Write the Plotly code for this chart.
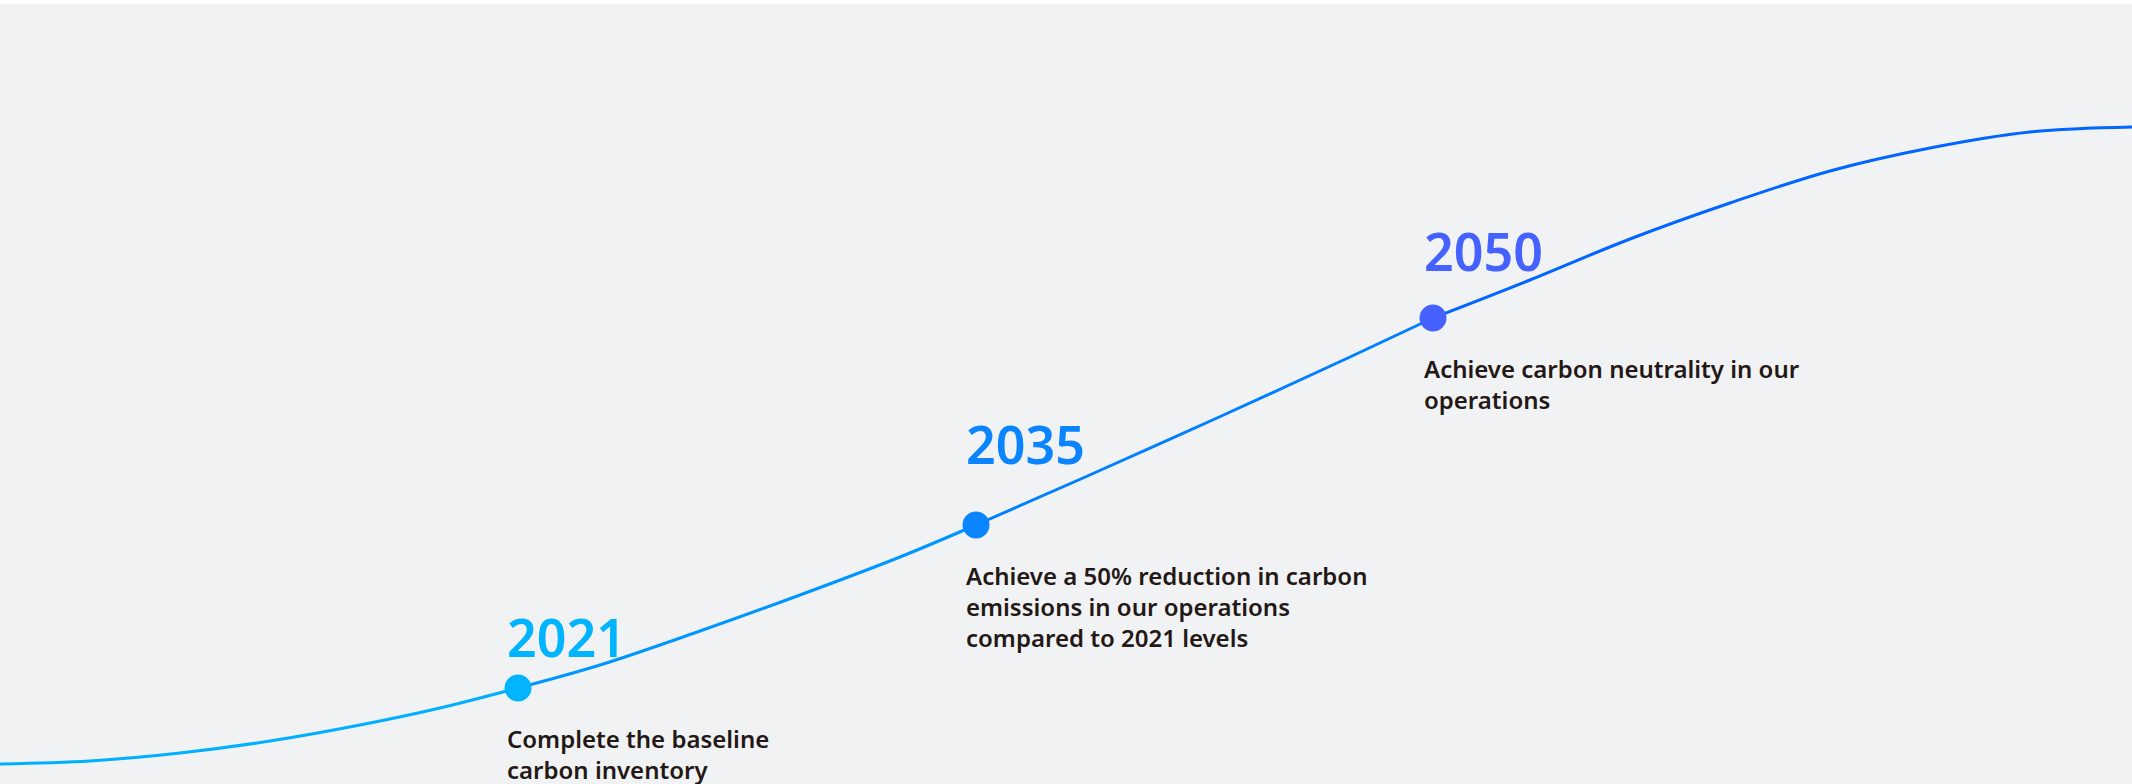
import plotly.graph_objects as go

# ---- data (pixel-like units: x 0..2132, y 0..784 top-down) ----
curve_x = [0, 90, 180, 270, 360, 440, 518,
           600, 700, 800, 900, 976,
           1083, 1217, 1350, 1433,
           1530, 1630, 1730, 1830, 1930, 2030, 2132]
curve_y = [764, 761, 753, 741, 725, 708, 688,
           665, 631, 595, 557, 525,
           478, 418, 357, 318,
           280, 239, 203, 171, 148, 132, 127]

milestone_years = ["2021", "2035", "2050"]
milestone_x = [518, 976, 1433]
milestone_y = [688, 525, 318]
milestone_text = [
    "Complete the baseline<br>carbon inventory",
    "Achieve a 50% reduction in carbon<br>emissions in our operations<br>compared to 2021 levels",
    "Achieve carbon neutrality in our<br>operations",
]

# ---- styling / layout ----
milestone_colors = ["#00b4ff", "#0a84ff", "#4561ff"]
segment_colors = ["#00b0ff", "#0096ff", "#0080ff", "#0066ff"]
year_label_left = [506, 965, 1423]
year_label_top = [600, 407, 214]
desc_top_offset = 33
bg = "#f1f2f4"
text_color = "#231815"
font_family = "Noto Sans"

fig = go.Figure()

# split the curve at the milestone points (joins are hidden under the dots)
breaks = [0] + [curve_x.index(mx) for mx in milestone_x] + [len(curve_x) - 1]
for s in range(len(breaks) - 1):
    a, b = breaks[s], breaks[s + 1]
    fig.add_trace(go.Scatter(
        x=curve_x[a:b + 1], y=curve_y[a:b + 1],
        mode="lines", line=dict(color=segment_colors[s], width=3, shape="spline", smoothing=1),
        hoverinfo="skip", showlegend=False,
    ))

fig.add_trace(go.Scatter(
    x=milestone_x, y=milestone_y, mode="markers",
    marker=dict(size=27, color=milestone_colors, line=dict(width=0)),
    hoverinfo="skip", showlegend=False,
))

for i, yr in enumerate(milestone_years):
    fig.add_annotation(
        x=year_label_left[i], y=year_label_top[i], xref="x", yref="y",
        text=yr, showarrow=False, xanchor="left", yanchor="top", align="left",
        borderpad=0,
        font=dict(family=font_family, size=52, color=milestone_colors[i], weight=600),
    )
    fig.add_annotation(
        x=year_label_left[i], y=milestone_y[i] + desc_top_offset, xref="x", yref="y",
        text=milestone_text[i], showarrow=False, xanchor="left", yanchor="top",
        align="left", borderpad=0,
        font=dict(family=font_family, size=24, color=text_color, weight=600),
    )

fig.update_layout(
    width=2132, height=784,
    margin=dict(l=0, r=0, t=4, b=0),
    paper_bgcolor="#ffffff", plot_bgcolor=bg,
    xaxis=dict(range=[0, 2132], visible=False, fixedrange=True),
    yaxis=dict(range=[784, 4], visible=False, fixedrange=True),
    showlegend=False, hovermode=False,
)

fig.write_html(
    "out.html",
    config={"displayModeBar": False},
    post_script="document.body.style.margin='0';document.body.style.overflow='hidden';",
)
